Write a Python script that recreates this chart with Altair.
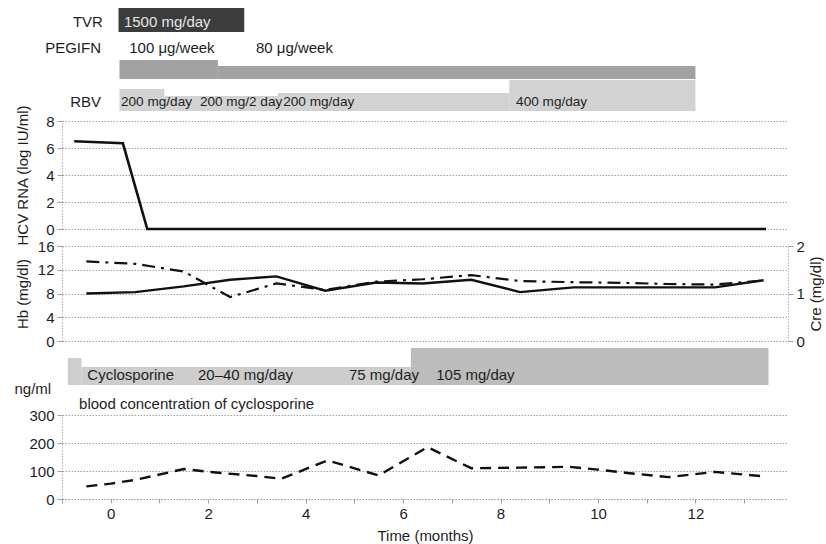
import altair as alt
import pandas as pd

# ---------------- data ----------------
# HCV RNA (log IU/ml)
hcv_time = [-0.75, 0.25, 0.75, 13.45]
hcv_value = [6.5, 6.35, 0.0, 0.0]

# Hb (left axis, dash-dot) and Cre (right axis, solid)
lab_time = [-0.5, 0.5, 1.5, 2.45, 3.4, 4.4, 5.45, 6.4, 7.4, 8.4, 9.5, 10.5, 11.4, 12.4, 13.4]
hb_value = [13.4, 13.0, 11.7, 7.4, 9.7, 8.6, 10.0, 10.4, 11.1, 10.1, 9.9, 9.8, 9.6, 9.5, 10.2]
cre_value = [1.00, 1.03, 1.15, 1.29, 1.36, 1.06, 1.23, 1.21, 1.29, 1.03, 1.13, 1.13, 1.13, 1.13, 1.28]

# blood concentration of cyclosporine (ng/ml)
cys_time = [-0.5, 0.0, 0.5, 1.5, 2.0, 3.0, 3.5, 4.45, 5.5, 6.5, 7.4, 8.4, 9.4, 10.0, 10.6, 11.45, 12.4, 13.45]
cys_value = [45, 55, 68, 107, 97, 82, 72, 138, 84, 185, 110, 112, 115, 105, 93, 78, 97, 80]

# treatments: start / end (months) and dose labels
tvr_start = [0.16]
tvr_end = [2.74]
tvr_dose = ["1500 mg/day"]
peg_start = [0.18, 2.20]
peg_end = [2.20, 12.0]
peg_dose = ["100 \u03bcg/week", "80 \u03bcg/week"]
rbv_start = [0.18, 1.10, 3.43, 8.18]
rbv_end = [1.10, 3.43, 8.18, 12.0]
rbv_dose = ["200 mg/day", "200 mg/2 day", "200 mg/day", "400 mg/day"]
csa_start = [-0.88, -0.60, 6.16]
csa_end = [-0.60, 6.16, 13.5]
csa_text = ["Cyclosporine", "20\u201340 mg/day", "75 mg/day", "105 mg/day"]

# ---------------- layout (annotation placement) ----------------
tvr_label_t = [0.27]
peg_label_t = [0.38, 2.98]
rbv_label_t = [0.21, 1.83, 3.54, 8.32]
csa_label_t = [-0.48, 1.79, 4.89, 6.68]
tvr_box = [(7, 31)]
peg_box = [(59, 78), (65, 78)]
rbv_box = [(88, 110), (95, 110), (92, 110), (79, 110)]
csa_box = [(17, 44), (26, 44), (7, 44)]

FONT = "Liberation Sans"
FS = 15
INK = "#1e1e1e"
W = 726
XS = alt.Scale(domain=[-1, 13.9], nice=False, zero=False)


def xq(field, axis=None):
    return alt.X(field, type="quantitative", scale=XS, axis=axis)


def bars(df):
    return alt.Chart(df).mark_rect().encode(
        x=xq("start"),
        x2="end:Q",
        y=alt.Y("top:Q", scale=None, axis=None),
        y2="bottom:Q",
        color=alt.Color("fill:N", scale=None, legend=None),
    )


def texts(df, align, size=FS):
    return alt.Chart(df).mark_text(align=align, baseline="middle", font=FONT, fontSize=size).encode(
        x=xq("t"),
        y=alt.Y("y:Q", scale=None, axis=None),
        text="label:N",
        color=alt.Color("ink:N", scale=None, legend=None),
    )


# ---- panel A: TVR / PEGIFN / RBV ----
rows = []
for s, e, b in zip(tvr_start, tvr_end, tvr_box):
    rows.append(dict(start=s, end=e, top=b[0], bottom=b[1], fill="#3c3c3c"))
for s, e, b in zip(peg_start, peg_end, peg_box):
    rows.append(dict(start=s, end=e, top=b[0], bottom=b[1], fill="#a2a2a2"))
for s, e, b in zip(rbv_start, rbv_end, rbv_box):
    rows.append(dict(start=s, end=e, top=b[0], bottom=b[1], fill="#d2d2d2"))
barsA = pd.DataFrame(rows)

tl = []
for t, lab in zip(tvr_label_t, tvr_dose):
    tl.append(dict(t=t, y=21, label=lab, ink="#e6e6e6"))
for t, lab in zip(peg_label_t, peg_dose):
    tl.append(dict(t=t, y=47, label=lab, ink=INK))
textA = pd.DataFrame(tl)
textR = pd.DataFrame([dict(t=t, y=101, label=lab, ink=INK) for t, lab in zip(rbv_label_t, rbv_dose)])
rowlab = pd.DataFrame([
    dict(t=-0.16, y=21, label="TVR", ink=INK),
    dict(t=-0.20, y=47, label="PEGIFN", ink=INK),
    dict(t=-0.20, y=101, label="RBV", ink=INK),
])
panelA = alt.layer(
    bars(barsA), texts(textA, "left"), texts(textR, "left", 13.6), texts(rowlab, "right")
).properties(width=W, height=120)

# ---- panel B: HCV RNA ----
df_hcv = pd.DataFrame(dict(t=hcv_time, v=hcv_value))
panelB = alt.Chart(df_hcv).mark_line(color="#111111", strokeWidth=2.6).encode(
    x=xq("t"),
    y=alt.Y("v:Q", scale=alt.Scale(domain=[0, 8], nice=False),
            axis=alt.Axis(values=[0, 2, 4, 6, 8], title="HCV RNA (log IU/ml)",
                          titleAngle=270, titleBaseline="alphabetic", titleX=-34.5)),
).properties(width=W, height=108)

# ---- panel C: Hb / Cre ----
df_lab = pd.DataFrame(dict(t=lab_time, hb=hb_value, cre=cre_value))
hb_line = alt.Chart(df_lab).mark_line(color="#111111", strokeWidth=2.2, strokeDash=[13, 6, 3, 6]).encode(
    x=xq("t"),
    y=alt.Y("hb:Q", scale=alt.Scale(domain=[0, 16], range=[112, 17], nice=False),
            axis=alt.Axis(values=[0, 4, 8, 12, 16], title="Hb (mg/dl)",
                          titleAngle=270, titleBaseline="alphabetic", titleX=-34.5)),
)
cre_line = alt.Chart(df_lab).mark_line(color="#111111", strokeWidth=2.4).encode(
    x=xq("t"),
    y=alt.Y("cre:Q", scale=alt.Scale(domain=[0, 2], range=[112, 17], nice=False),
            axis=alt.Axis(orient="right", values=[0, 1, 2], grid=False,
                          labelExpr="datum.value == 1 ? '1' : (datum.value == 2 ? '2' : '0')",
                          labelOverlap=False, labelBound=False, labelFlush=False,
                          title="Cre (mg/dl)",
                          titleAngle=270, titleBaseline="alphabetic", titleX=32)),
)
panelC = alt.layer(hb_line, cre_line).resolve_scale(y="independent").properties(width=W, height=112)

# ---- panel E: cyclosporine dose bar ----
crow = []
fills = ["#cecece", "#cdcdcd", "#bcbcbc"]
for s, e, b, f in zip(csa_start, csa_end, csa_box, fills):
    crow.append(dict(start=s, end=e, top=b[0], bottom=b[1], fill=f))
barsE = pd.DataFrame(crow)
te = [dict(t=t, y=34, label=lab, ink=INK) for t, lab in zip(csa_label_t, csa_text)]
te.append(dict(t=-0.65, y=63, label="blood concentration of cyclosporine", ink=INK))
textE = pd.DataFrame(te)
panelE = alt.layer(bars(barsE), texts(textE, "left")).properties(width=W, height=74)

# ---- panel D: cyclosporine concentration ----
df_cys = pd.DataFrame(dict(t=cys_time, v=cys_value))
panelD = alt.Chart(df_cys).mark_line(color="#111111", strokeWidth=2.4, strokeDash=[11, 7]).encode(
    x=xq("t", axis=alt.Axis(values=list(range(-1, 14)),
                            labelExpr="(datum.value % 2 == 0 && datum.value >= 0) ? datum.label : ''",
                            title="Time (months)", grid=False, tickSize=4, labelPadding=3,
                            titlePadding=7)),
    y=alt.Y("v:Q", scale=alt.Scale(domain=[0, 300], nice=False),
            axis=alt.Axis(values=[0, 100, 200, 300], title="ng/ml", titleAngle=0,
                          titleAlign="left", titleBaseline="middle", titleX=-48, titleY=-27)),
).properties(width=W, height=84)

chart = alt.vconcat(panelA, panelB, panelC, panelE, panelD, spacing=0, bounds="flush").properties(
    padding={"left": 13, "top": 0, "right": 0, "bottom": 0}
).configure_axis(
    labelFont=FONT, titleFont=FONT, labelFontSize=FS, titleFontSize=FS,
    labelColor=INK, titleColor=INK, titleFontWeight="normal",
    gridColor="#8a8a8a", gridDash=[1.5, 1.5], gridWidth=0.8,
    domainColor="#9a9a9a", domainDash=[1.5, 1.5], domainWidth=0.8,
    tickColor="#888888", tickSize=5, tickWidth=0.8, labelPadding=3,
).configure_axisX(grid=False).configure_view(stroke="transparent")

chart.save("out.html", embed_options={"renderer": "svg", "actions": False})
